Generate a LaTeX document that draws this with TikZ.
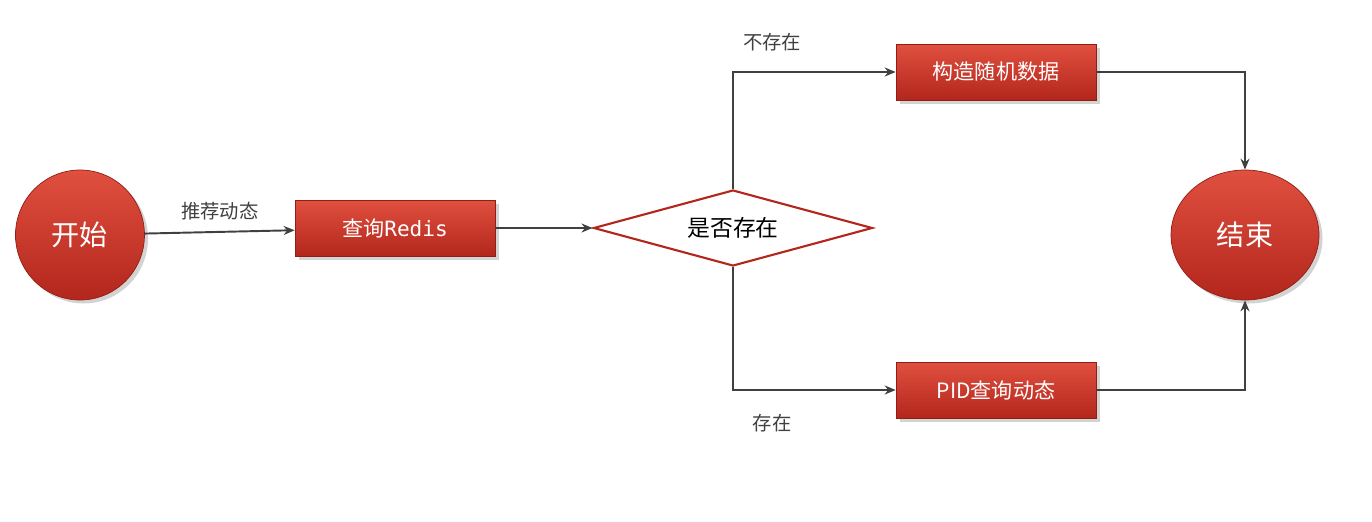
\documentclass[tikz,border=0pt]{standalone}
\usepackage{fontspec}
\setmainfont{Noto Sans CJK SC}
\newfontfamily\monofont{DejaVu Sans Mono}
\usetikzlibrary{arrows.meta, positioning, shapes.geometric, shadows}
\definecolor{redtop}{HTML}{E0503F}
\definecolor{redbot}{HTML}{B3261C}
\definecolor{linegray}{HTML}{404040}

\begin{document}
\begin{tikzpicture}[
    x=0.02cm, y=-0.02cm,
    % red filled shapes
    redfill/.style={top color=redtop, bottom color=redbot, draw=redbot!80!black,
                    drop shadow={shadow xshift=2pt, shadow yshift=-2pt, opacity=0.35},
                    text=white},
    terminal/.style={redfill, ellipse, inner sep=0pt, font=\fontsize{16}{18}\selectfont},
    procbox/.style={redfill, rectangle, minimum width=4cm, minimum height=1.12cm,
                    font=\fontsize{12}{14}\selectfont},
    decision/.style={diamond, aspect=3.67, draw=redbot, line width=1.2pt, fill=white,
                     minimum width=5.58cm, minimum height=1.52cm, inner sep=0pt,
                     font=\fontsize{13}{15}\selectfont},
    lbl/.style={text=linegray, font=\fontsize{11}{13}\selectfont},
    arrow/.style={-{Stealth[length=2.2mm, width=1.8mm]}, draw=linegray, line width=1.1pt}
]

\useasboundingbox (0,0) rectangle (1372,521);

% === NODES ===
\node[terminal, minimum width=2.58cm, minimum height=2.6cm] (start) at (80,235) {开始};
\node[procbox] (query) at (395,228) {查询{\monofont Redis}};
\node[decision] (check) at (733,228) {是否存在};
\node[procbox] (fake) at (996,72) {构造随机数据};
\node[procbox] (pid) at (996,390) {PID查询动态};
\node[terminal, minimum width=2.96cm, minimum height=2.6cm] (stop) at (1245,235) {结束};

% === CONNECTORS ===
\draw[arrow] (start) -- node[lbl, above=3pt] {推荐动态} (query);
\draw[arrow] (query) -- (check);
\draw[arrow] (check.north) |- node[lbl, pos=0.62, above=8pt] {不存在} (fake);
\draw[arrow] (check.south) |- node[lbl, pos=0.62, below=10pt] {存在} (pid);
\draw[arrow] (fake) -| (stop.north);
\draw[arrow] (pid) -| (stop.south);

\end{tikzpicture}
\end{document}
